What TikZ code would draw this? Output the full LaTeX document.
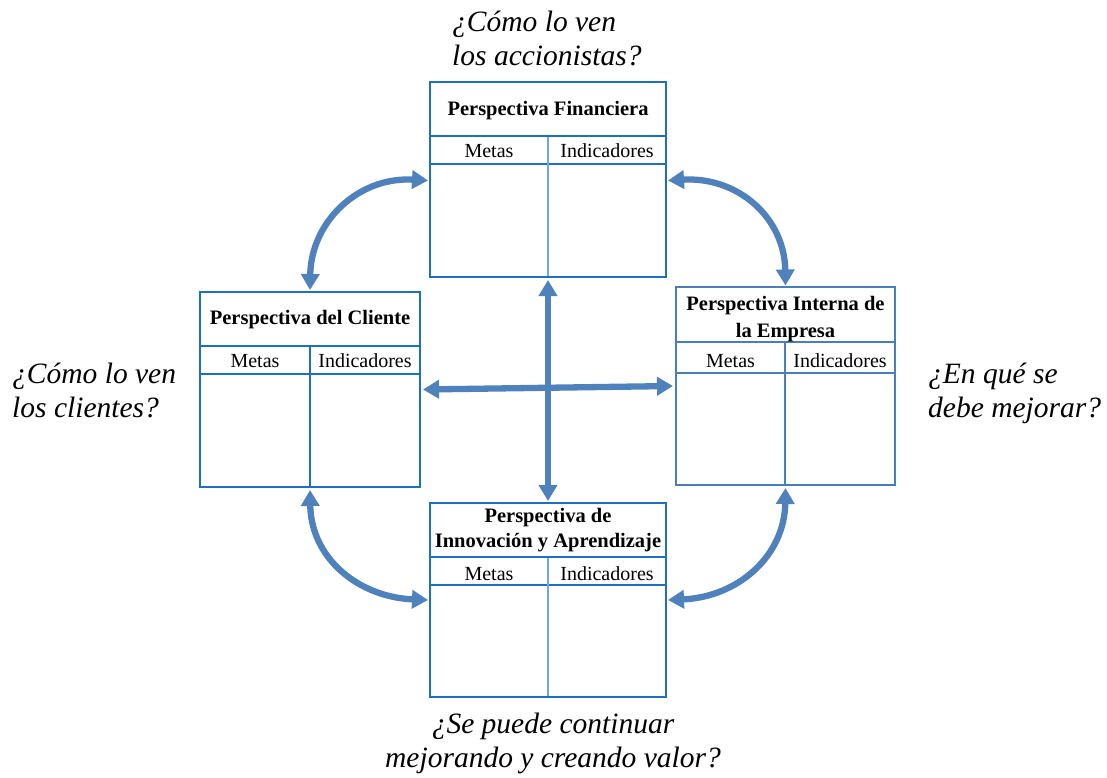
\documentclass[tikz,border=0pt]{standalone}
\usepackage{fontspec}
\setmainfont{Liberation Serif}
\usetikzlibrary{arrows.meta}

\definecolor{marco}{HTML}{1F6FC1}
\definecolor{marcoclaro}{HTML}{4A7EBB}
\definecolor{divisor}{HTML}{6FA8DC}
\definecolor{flecha}{HTML}{4F81BD}

\tikzset{
  tabla/.style={draw=marco, line width=2.6pt, inner sep=0pt, outer sep=0pt, anchor=north west},
  tablaclara/.style={tabla, draw=marcoclaro, line width=2pt},
  linea/.style={draw=marco, line width=2.6pt},
  lineaclara/.style={draw=marcoclaro, line width=2pt},
  division/.style={draw=divisor, line width=1.6pt},
  titulo/.style={font={\fontsize{20.5}{25}\selectfont\bfseries}, inner sep=0pt, anchor=base},
  cabecera/.style={font={\fontsize{20}{24}\selectfont}, inner sep=0pt, anchor=base},
  pregunta/.style={font={\fontsize{29.5}{34}\selectfont\itshape}, inner sep=0pt, anchor=base west},
  enlace/.style={draw=flecha, line width=6.3pt,
    {Triangle[length=16pt,width=18pt]}-{Triangle[length=16pt,width=18pt]}},
}

\begin{document}
\begin{tikzpicture}[x=1pt,y=-1pt]
\useasboundingbox (0,0) rectangle (1107,777);

% Perspectiva Financiera
\node[tabla, minimum width=236pt, minimum height=195pt] (fin) at (430,82) {};
\draw[linea] (430,136) -- (666,136);
\draw[linea] (430,164) -- (666,164);
\draw[division] (548,137) -- (548,276);
\node[titulo] (finT) at (548,115) {Perspectiva Financiera};
\node[cabecera] (finM) at (489,157) {Metas};
\node[cabecera] (finI) at (607,157) {Indicadores};

% Perspectiva del Cliente
\node[tabla, minimum width=220pt, minimum height=195pt] (cli) at (200,292) {};
\draw[linea] (200,346) -- (420,346);
\draw[linea] (200,374) -- (420,374);
\draw[linea, line width=2pt] (310,346) -- (310,486);
\node[titulo] (cliT) at (310,324) {Perspectiva del Cliente};
\node[cabecera] (cliM) at (255,367) {Metas};
\node[cabecera] (cliI) at (365,367) {Indicadores};

% Perspectiva Interna de la Empresa
\node[tablaclara, minimum width=219pt, minimum height=198pt] (int) at (676,287) {};
\draw[lineaclara] (676,342) -- (895,342);
\draw[lineaclara] (676,373) -- (895,373);
\draw[lineaclara] (785,342) -- (785,485);
\node[titulo] (intT1) at (785.5,310) {Perspectiva Interna de};
\node[titulo] (intT2) at (785.5,337) {la Empresa};
\node[cabecera] (intM) at (730.5,367) {Metas};
\node[cabecera] (intI) at (840,367) {Indicadores};

% Perspectiva de Innovación y Aprendizaje
\node[tabla, minimum width=236pt, minimum height=194pt] (inn) at (430,503) {};
\draw[linea] (430,557) -- (666,557);
\draw[linea] (430,585) -- (666,585);
\draw[division] (548,558) -- (548,696);
\node[titulo] (innT1) at (548,522) {Perspectiva de};
\node[titulo] (innT2) at (548,547) {Innovación y Aprendizaje};
\node[cabecera] (innM) at (489,580) {Metas};
\node[cabecera] (innI) at (607,580) {Indicadores};

% Relaciones entre perspectivas
\draw[enlace] ([xshift=-2pt,yshift=-1pt]fin.west) .. controls +(-70,-4) and +(1,-68) .. ([yshift=2pt]cli.north);
\draw[enlace] ([xshift=2pt,yshift=-1pt]fin.east) .. controls +(70,-4) and +(-1,-68) .. ([yshift=1.5pt]int.north);
\draw[enlace] ([yshift=-3pt]cli.south) .. controls +(1,68) and +(-70,-3) .. ([xshift=-2pt]inn.west);
\draw[enlace] ([yshift=-3pt]int.south) .. controls +(-1,68) and +(70,-3) .. ([xshift=2pt]inn.east);
\draw[enlace] ([yshift=-3pt]fin.south) -- ([yshift=2pt]inn.north);
\draw[enlace] ([xshift=3pt]cli.east) -- ([xshift=-3pt]int.west);

% Preguntas
\node[pregunta] (q1a) at (452,31) {¿Cómo lo ven};
\node[pregunta] (q1b) at (452,65) {los accionistas?};
\node[pregunta] (q2a) at (12,383) {¿Cómo lo ven};
\node[pregunta] (q2b) at (12,417) {los clientes?};
\node[pregunta] (q3a) at (928,383) {¿En qué se};
\node[pregunta] (q3b) at (928,417) {debe mejorar?};
\node[pregunta, anchor=base] (q4a) at (553,733) {¿Se puede continuar};
\node[pregunta, anchor=base] (q4b) at (553,767) {mejorando y creando valor?};
\end{tikzpicture}
\end{document}
